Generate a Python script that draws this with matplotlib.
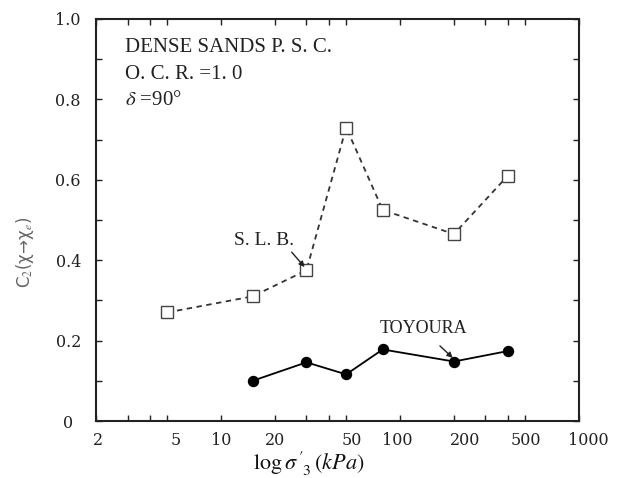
import matplotlib
matplotlib.use("Agg")
import matplotlib.pyplot as plt
import matplotlib.transforms as mtransforms
from matplotlib.ticker import FixedLocator, NullFormatter

plt.rcParams["mathtext.fontset"] = "stix"

# Confining stress (kPa) and C2 values
slb_stress = [5, 15, 30, 50, 80, 200, 400]
slb_c2 = [0.27, 0.31, 0.375, 0.73, 0.525, 0.465, 0.61]

toyoura_stress = [15, 30, 50, 80, 200, 400]
toyoura_c2 = [0.10, 0.146, 0.116, 0.178, 0.148, 0.174]

x_tick_values = [2, 5, 10, 20, 50, 100, 200, 500, 1000]
x_tick_labels = ["2", "5", "10", "20", "50", "100", "200", "500", "1000"]
x_minor_values = [3, 4, 30, 40, 300, 400]
y_tick_values = [0, 0.2, 0.4, 0.6, 0.8, 1.0]
y_tick_labels = ["0", "0.2", "0.4", "0.6", "0.8", "1.0"]

fig = plt.figure(figsize=(6.25, 4.78), dpi=100)
ax = fig.add_axes([0.1536, 0.1192, 0.7728, 0.8411])

ax.plot(slb_stress, slb_c2, color="#333333", lw=1.3, linestyle=(0, (3.0, 2.5)),
        marker="s", markersize=8.5, markerfacecolor="white",
        markeredgecolor="#444444", markeredgewidth=1.0, zorder=3)
ax.plot(toyoura_stress, toyoura_c2, color="black", lw=1.3,
        marker="o", markersize=7.2, markerfacecolor="black",
        markeredgecolor="black", zorder=3)

ax.set_xscale("log")
ax.set_xlim(2, 1000)
ax.set_ylim(0, 1.0)

ax.xaxis.set_major_locator(FixedLocator(x_tick_values))
ax.set_xticklabels(x_tick_labels)
ax.xaxis.set_minor_locator(FixedLocator(x_minor_values))
ax.xaxis.set_minor_formatter(NullFormatter())
ax.set_yticks(y_tick_values)
ax.set_yticklabels(y_tick_labels)
ax.yaxis.set_minor_locator(FixedLocator([0.1, 0.3, 0.5, 0.7, 0.9]))

ax.tick_params(axis="both", which="both", direction="in", top=True, right=True,
               length=4, width=1.0, color="#222222")
ax.tick_params(axis="x", which="major", pad=8, labelsize=11.5)
ax.tick_params(axis="y", which="major", pad=20, labelsize=11.5)
for lab in ax.get_yticklabels():
    lab.set_horizontalalignment("center")
    lab.set_fontfamily("DejaVu Serif")
    lab.set_color("#222222")

# hand-set label placement along the stress axis
x_label_shift_px = [2, 9, 0, 0, 6, -3, 11, 1, 9]
for lab, dx in zip(ax.get_xticklabels(), x_label_shift_px):
    lab.set_fontfamily("DejaVu Serif")
    lab.set_color("#222222")
    lab.set_transform(lab.get_transform() +
                      mtransforms.ScaledTranslation(dx / 100, 0, fig.dpi_scale_trans))

for side in ax.spines.values():
    side.set_linewidth(1.5)
    side.set_color("#222222")

ax.set_xlabel(r"$\log\sigma^{\,\prime}_{\ \ 3}\,(kPa)$", fontsize=16,
              color="#111111", va="center")
ax.xaxis.set_label_coords(0.44, -0.107)
ax.set_ylabel(r"C$_2$(χ→χ$_e$)", fontsize=12, color="#666666",
              fontfamily="DejaVu Sans")
ax.yaxis.set_label_coords(-0.125, 0.42)

serif = "Liberation Serif"
ax.text(0.061, 0.928, "DENSE SANDS P. S. C.", transform=ax.transAxes,
        fontsize=15, fontfamily=serif, va="center", ha="left", color="#222222")
ax.text(0.061, 0.862, "O. C. R. =1. 0", transform=ax.transAxes,
        fontsize=15, fontfamily=serif, va="center", ha="left", color="#222222")
ax.text(0.061, 0.797, r"$\delta$ =90°", transform=ax.transAxes,
        fontsize=15, fontfamily=serif, va="center", ha="left", color="#222222")

ax.text(17.3, 0.450, "S. L. B.", fontsize=14, fontfamily=serif,
        ha="center", va="center", color="#222222")
ax.annotate("", xy=(29.3, 0.383), xytext=(24.8, 0.420),
            arrowprops=dict(arrowstyle="-|>", color="#222222", lw=1.0,
                            mutation_scale=8, shrinkA=0, shrinkB=0))
ax.text(135.8, 0.229, "TOYOURA", fontsize=13, fontfamily=serif,
        ha="center", va="center", color="#222222")
ax.annotate("", xy=(197, 0.157), xytext=(167, 0.187),
            arrowprops=dict(arrowstyle="-|>", color="#222222", lw=1.0,
                            mutation_scale=8, shrinkA=0, shrinkB=0))

fig.savefig("out.png", dpi=100)
